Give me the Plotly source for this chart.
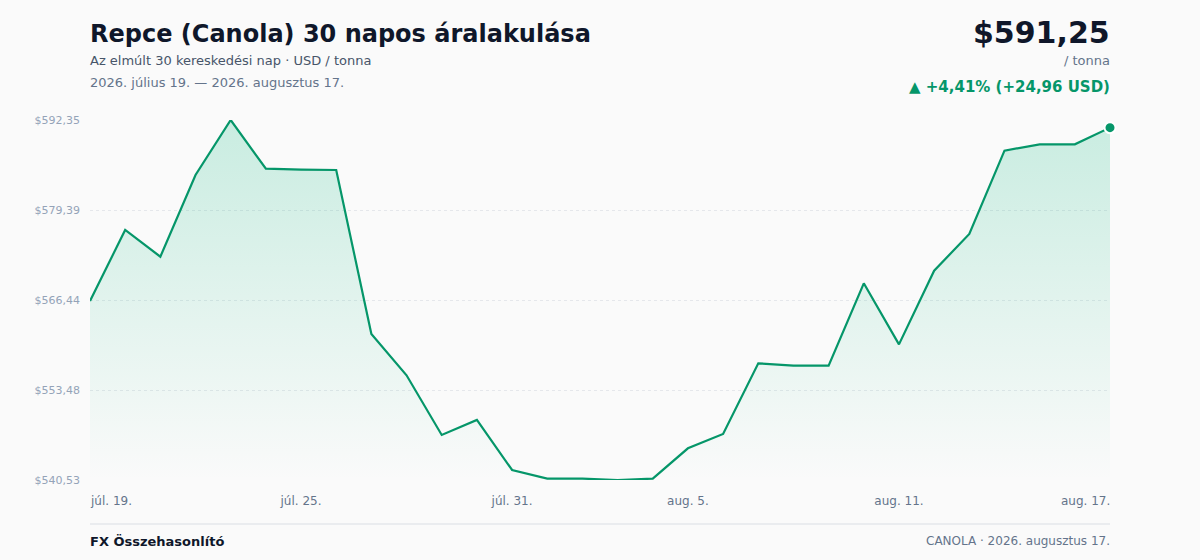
import pandas as pd
import plotly.graph_objects as go

# ---- data ----
dates = list(pd.date_range("2026-07-19", periods=30, freq="D"))
prices = [566.29, 576.52, 572.67, 584.43, 592.348, 585.34, 585.20, 585.15, 561.55, 555.60,
          547.01, 549.17, 541.97, 540.72, 540.72, 540.529, 540.72, 545.09, 547.15, 557.33,
          556.99, 556.99, 568.84, 560.05, 570.66, 575.94, 587.93, 588.85, 588.85, 591.25]
mid_tick_dates = ["2026-07-25", "2026-07-31", "2026-08-05", "2026-08-11"]
mid_tick_text = ["júl. 25.", "júl. 31.", "aug. 5.", "aug. 11."]
first_tick_text = "júl. 19."
last_tick_text = "aug. 17."

title = "Repce (Canola) 30 napos áralakulása"
subtitle = "Az elmúlt 30 kereskedési nap · USD / tonna"
period = "2026. július 19. — 2026. augusztus 17."
unit = "/ tonna"
brand = "FX Összehasonlító"
source = "CANOLA · 2026. augusztus 17."

GREEN = "#059669"
BG = "#fafafa"
FONT = "DejaVu Sans"

ymin, ymax = min(prices), max(prices)
step = (ymax - ymin) / 4
ytickvals = [ymin + i * step for i in range(5)]

def hu(v):
    return f"{v:.2f}".replace(".", ",")

last = prices[-1]
chg = last - prices[0]
pct = chg / prices[0] * 100

fig = go.Figure()
fig.add_trace(go.Scatter(
    x=dates, y=prices, mode="lines",
    line=dict(color=GREEN, width=2.2),
    fill="tozeroy",
    fillgradient=dict(type="vertical", start=ymin, stop=ymax,
                      colorscale=[[0, "rgba(16,185,129,0.0)"], [1, "rgba(16,185,129,0.21)"]]),
    hoverinfo="skip", showlegend=False,
))
fig.add_trace(go.Scatter(
    x=[dates[-1]], y=[last], mode="markers",
    marker=dict(color=GREEN, size=11, line=dict(color="white", width=2)),
    hoverinfo="skip", showlegend=False, cliponaxis=False,
))

W, H = 1200, 560
L, R, T, B = 90, 90, 120, 80
pw, ph = W - L - R, H - T - B

def px(x):
    return (x - L) / pw

def py(y):
    return (H - B - y) / ph

ann = []
def add(text, x, y, size, color, xanchor="left", bold=False):
    x = x - 2 if xanchor == "left" else x + 2
    ann.append(dict(text=f"<b>{text}</b>" if bold else text, x=px(x), y=py(y),
                    xref="paper", yref="paper", xanchor=xanchor, yanchor="middle",
                    showarrow=False, font=dict(family=FONT, size=size, color=color)))

add(title, 90, 34, 24, "#0f172a", bold=True)
add(subtitle, 90, 61, 13, "#475569")
add(period, 90, 83, 13, "#64748b")
add(f"${hu(last)}", 1110, 33, 30, "#0f172a", xanchor="right", bold=True)
add(unit, 1110, 61, 13, "#64748b", xanchor="right")
add(f"▲ +{hu(pct)}% (+{hu(chg)} USD)", 1110, 87, 15, GREEN, xanchor="right", bold=True)
add(first_tick_text, 90, 501, 12, "#64748b")
add(last_tick_text, 1110, 501, 12, "#64748b", xanchor="right")
add(brand, 90, 541, 13, "#0f172a", bold=True)
add(source, 1110, 541, 12, "#64748b", xanchor="right")

fig.update_layout(
    width=W, height=H,
    margin=dict(l=L, r=R, t=T, b=B),
    paper_bgcolor=BG, plot_bgcolor=BG,
    separators=", ",
    font=dict(family=FONT),
    annotations=ann,
    shapes=[dict(type="line", xref="paper", yref="paper", x0=0, x1=1,
                 y0=py(524), y1=py(524), line=dict(color="#e5e7eb", width=1.5))],
    xaxis=dict(type="date", range=[dates[0], dates[-1]], showgrid=False, zeroline=False,
               showline=False, tickmode="array", tickvals=mid_tick_dates, ticktext=mid_tick_text,
               ticks="", ticklabelstandoff=12,
               tickfont=dict(family=FONT, size=12, color="#64748b")),
    yaxis=dict(range=[ymin, ymax], tickmode="array", tickvals=ytickvals,
               ticktext=[f"${hu(v)}" for v in ytickvals],
               showgrid=True, gridcolor="#e5e7eb", griddash="dot", gridwidth=1,
               zeroline=False, showline=False, ticks="", ticklabelstandoff=9,
               tickfont=dict(family=FONT, size=11, color="#94a3b8")),
)

fig.write_html("out.html", config={"displayModeBar": False},
               post_script="document.body.style.margin='0';document.body.style.background='%s';" % BG)
